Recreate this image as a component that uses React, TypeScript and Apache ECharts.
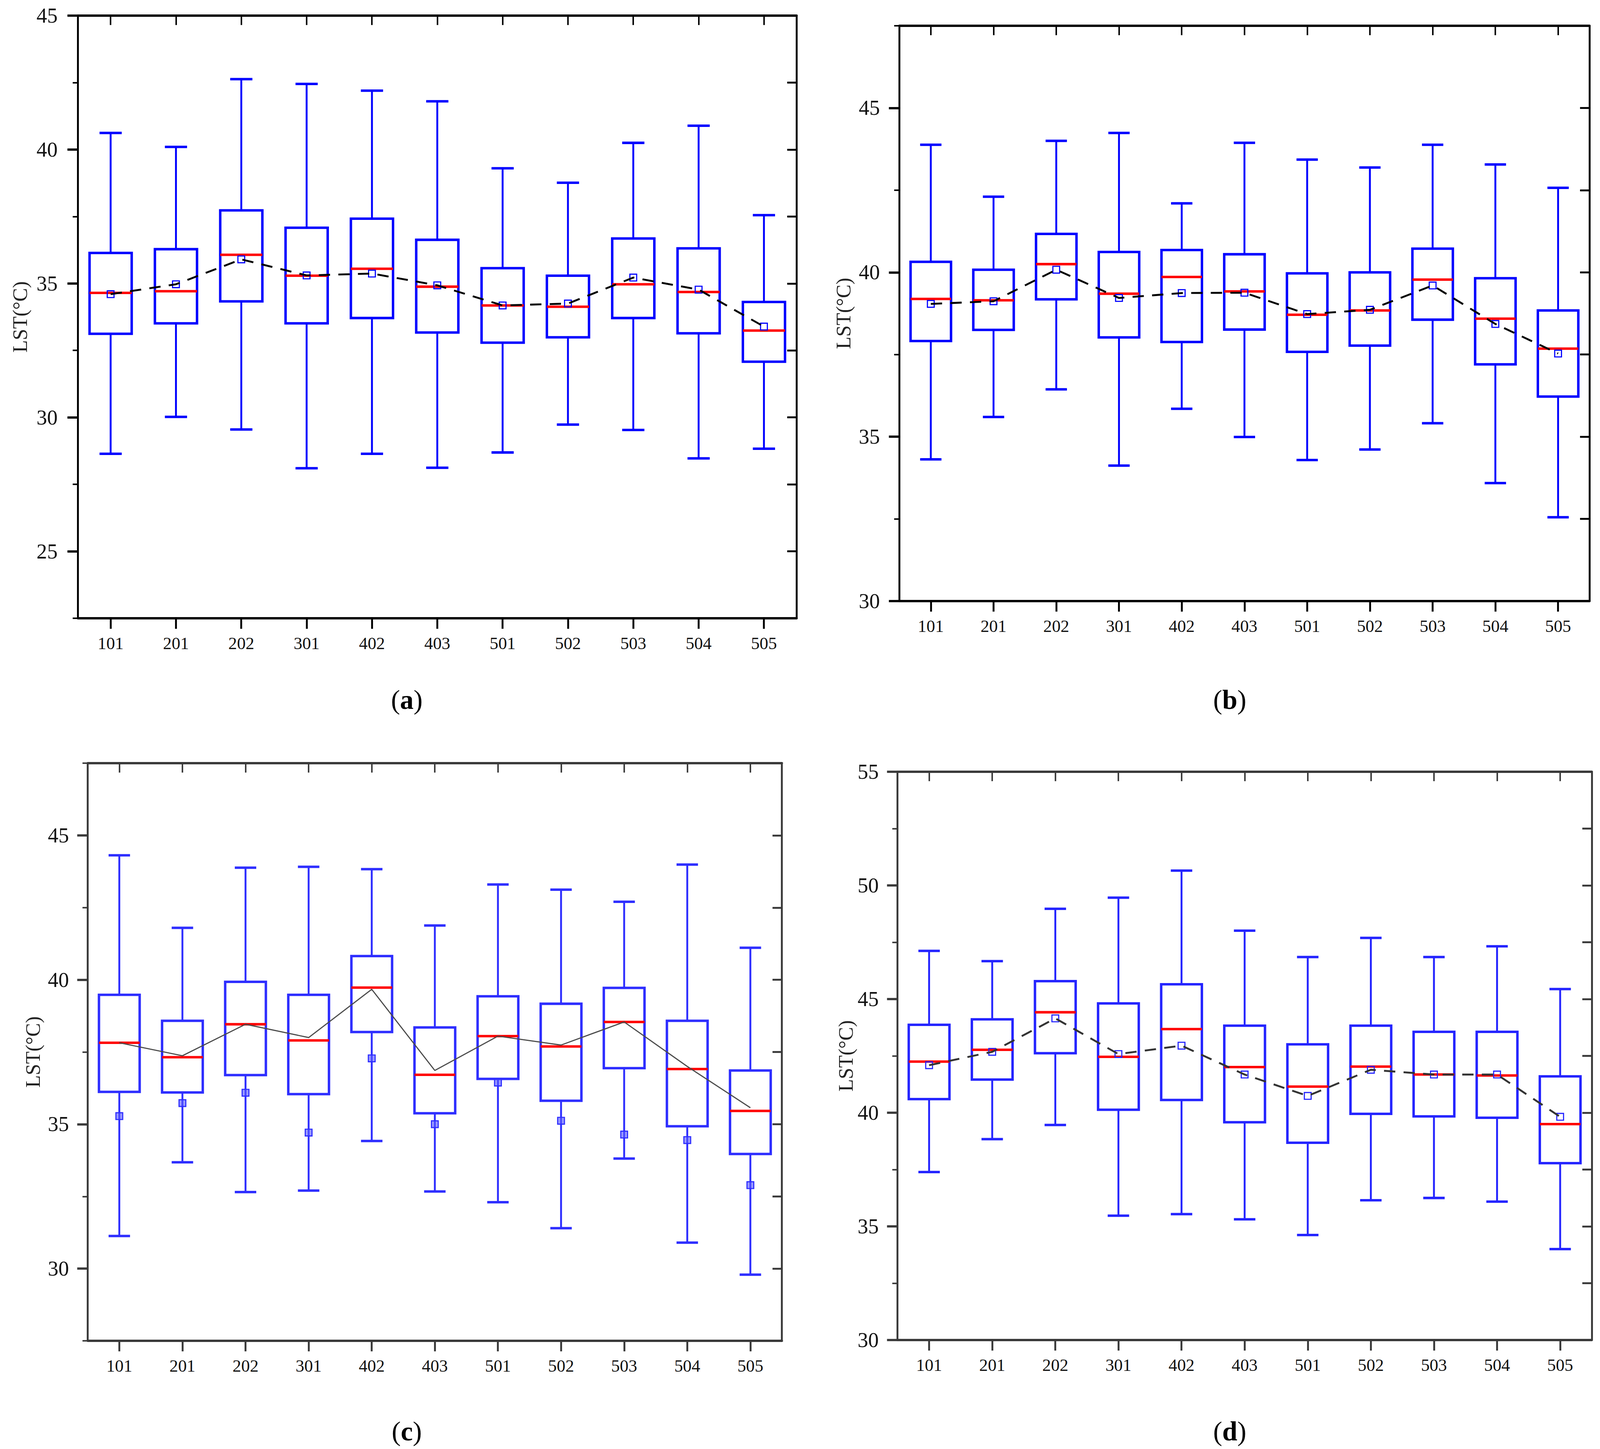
import React, { useEffect, useRef } from "react";
import * as echarts from "echarts";

const categories = ["101", "201", "202", "301", "402", "403", "501", "502", "503", "504", "505"];

// Panel (a)
const aLow = [28.64, 30.02, 29.55, 28.1, 28.64, 28.12, 28.69, 29.73, 29.53, 28.47, 28.83];
const aQ1 = [33.12, 33.51, 34.33, 33.51, 33.71, 33.17, 32.79, 32.99, 33.71, 33.14, 32.08];
const aMed = [34.65, 34.71, 36.07, 35.29, 35.55, 34.88, 34.18, 34.13, 34.97, 34.68, 33.24];
const aQ3 = [36.14, 36.28, 37.73, 37.08, 37.42, 36.63, 35.57, 35.29, 36.68, 36.31, 34.31];
const aHigh = [40.62, 40.1, 42.63, 42.45, 42.2, 41.8, 39.3, 38.76, 40.25, 40.89, 37.55];
const aMean = [34.6, 34.97, 35.9, 35.3, 35.37, 34.93, 34.18, 34.25, 35.22, 34.77, 33.39];

// Panel (b)
const bLow = [34.31, 35.6, 36.44, 34.12, 35.85, 34.99, 34.29, 34.61, 35.41, 33.59, 32.55];
const bQ1 = [37.91, 38.25, 39.18, 38.02, 37.88, 38.26, 37.58, 37.77, 38.56, 37.2, 36.22];
const bMed = [39.19, 39.15, 40.25, 39.35, 39.86, 39.42, 38.71, 38.84, 39.78, 38.59, 37.68];
const bQ3 = [40.32, 40.08, 41.17, 40.62, 40.68, 40.55, 39.97, 40.0, 40.72, 39.82, 38.84];
const bHigh = [43.88, 42.3, 44.0, 44.24, 42.1, 43.94, 43.43, 43.19, 43.88, 43.28, 42.57];
const bMean = [39.04, 39.12, 40.08, 39.22, 39.37, 39.38, 38.73, 38.86, 39.6, 38.43, 37.53];

// Panel (c)
const cLow = [31.13, 33.68, 32.65, 32.7, 34.42, 32.67, 32.3, 31.4, 33.81, 30.9, 29.79];
const cQ1 = [36.12, 36.1, 36.7, 36.04, 38.19, 35.38, 36.57, 35.81, 36.94, 34.93, 33.97];
const cMed = [37.82, 37.32, 38.46, 37.9, 39.73, 36.71, 38.05, 37.69, 38.54, 36.91, 35.46];
const cQ3 = [39.48, 38.58, 39.93, 39.48, 40.82, 38.35, 39.43, 39.17, 39.72, 38.58, 36.86];
const cHigh = [44.31, 41.8, 43.88, 43.91, 43.83, 41.88, 43.3, 43.12, 42.7, 43.99, 41.11];
const cMean = [35.28, 35.73, 36.09, 34.71, 37.28, 35.0, 36.44, 35.12, 34.64, 34.45, 32.89];
const cTrend = [37.82, 37.37, 38.46, 38.0, 39.67, 36.86, 38.05, 37.74, 38.54, 37.0, 35.57];

// Panel (d)
const dLow = [37.39, 38.84, 39.46, 35.47, 35.54, 35.31, 34.62, 36.15, 36.25, 36.09, 34.0];
const dQ1 = [40.6, 41.46, 42.62, 40.13, 40.56, 39.58, 38.68, 39.95, 39.84, 39.78, 37.78];
const dMed = [42.25, 42.77, 44.42, 42.46, 43.68, 42.01, 41.15, 42.03, 41.68, 41.64, 39.5];
const dQ3 = [43.87, 44.11, 45.79, 44.81, 45.65, 43.83, 43.01, 43.83, 43.56, 43.56, 41.6];
const dHigh = [47.12, 46.67, 48.97, 49.46, 50.65, 48.01, 46.85, 47.69, 46.85, 47.32, 45.44];
const dMean = [42.09, 42.68, 44.15, 42.58, 42.95, 41.68, 40.74, 41.89, 41.68, 41.68, 39.82];

const yMajorA = [25, 30, 35, 40, 45];
const yMajorB = [30, 35, 40, 45];
const yMajorC = [30, 35, 40, 45];
const yMajorD = [30, 35, 40, 45, 50, 55];

const FONT = "'Liberation Serif', 'Times New Roman', serif";
const REF_W = 4248;
const REF_H = 3710;

type Panel = {
  letter: string;
  grid: { left: number; top: number; width: number; height: number };
  min: number;
  max: number;
  majors: number[];
  low: number[];
  q1: number[];
  med: number[];
  q3: number[];
  high: number[];
  mean: number[];
  line: number[];
  lineColor: string;
  lineWidth: number;
  dashed: boolean;
  blue: string;
  meanFill: string;
  frame: string;
  labelMargin: number;
  nameGap: number;
  caption: [number, number];
};

const panels: Panel[] = [
  {
    letter: "a",
    grid: { left: 207, top: 40, width: 1908, height: 1543 },
    min: 22.5, max: 45, majors: yMajorA,
    low: aLow, q1: aQ1, med: aMed, q3: aQ3, high: aHigh, mean: aMean, line: aMean,
    lineColor: "#000", lineWidth: 5, dashed: true,
    blue: "#0000ff", meanFill: "rgba(0,0,0,0)", frame: "#000",
    labelMargin: 54, nameGap: 127, caption: [1080, 1791],
  },
  {
    letter: "b",
    grid: { left: 2388, top: 66, width: 1832, height: 1473 },
    min: 30, max: 47.5, majors: yMajorB,
    low: bLow, q1: bQ1, med: bMed, q3: bQ3, high: bHigh, mean: bMean, line: bMean,
    lineColor: "#000", lineWidth: 5, dashed: true,
    blue: "#0000ff", meanFill: "rgba(0,0,0,0)", frame: "#000",
    labelMargin: 52, nameGap: 121, caption: [3265, 1791],
  },
  {
    letter: "c",
    grid: { left: 233, top: 1954, width: 1843, height: 1479 },
    min: 27.5, max: 47.5, majors: yMajorC,
    low: cLow, q1: cQ1, med: cMed, q3: cQ3, high: cHigh, mean: cMean, line: cTrend,
    lineColor: "#4a4a4a", lineWidth: 3, dashed: false,
    blue: "#2e2eff", meanFill: "rgba(90,90,255,0.6)", frame: "#3a3a3a",
    labelMargin: 50, nameGap: 118, caption: [1080, 3664],
  },
  {
    letter: "d",
    grid: { left: 2383, top: 1976, width: 1843, height: 1455 },
    min: 30, max: 55, majors: yMajorD,
    low: dLow, q1: dQ1, med: dMed, q3: dQ3, high: dHigh, mean: dMean, line: dMean,
    lineColor: "#333", lineWidth: 5, dashed: true,
    blue: "#2424ff", meanFill: "rgba(0,0,0,0)", frame: "#3a3a3a",
    labelMargin: 50, nameGap: 105, caption: [3265, 3664],
  },
];

function buildOption(kx: number, ky: number) {
  const k = Math.min(kx, ky);
  const grid: any[] = [];
  const xAxis: any[] = [];
  const yAxis: any[] = [];
  const series: any[] = [];
  const graphic: any[] = [];

  panels.forEach((p, gi) => {
    grid.push({
      left: p.grid.left * kx,
      top: p.grid.top * ky,
      width: p.grid.width * kx,
      height: p.grid.height * ky,
      containLabel: false,
      outerBoundsMode: "none",
    });
    const lineStyle = { color: p.frame, width: 6 * k };
    xAxis.push({
      gridIndex: gi, type: "category", data: categories, position: "bottom",
      axisLine: { show: true, lineStyle },
      axisTick: { show: true, inside: false, length: 28 * k, alignWithLabel: true, lineStyle: { color: p.frame, width: 5 * k } },
      axisLabel: { show: true, fontSize: 46 * k, fontFamily: FONT, color: "#111", margin: 44 * k },
      splitLine: { show: false },
    });
    xAxis.push({
      gridIndex: gi, type: "category", data: categories, position: "top",
      axisLine: { show: true, lineStyle },
      axisTick: { show: true, inside: true, length: 25 * k, alignWithLabel: true, lineStyle: { color: p.frame, width: 4 * k } },
      axisLabel: { show: false },
      splitLine: { show: false },
    });
    yAxis.push({
      gridIndex: gi, type: "value", min: p.min, max: p.max, interval: 2.5, position: "left",
      axisLine: { show: true, lineStyle: { color: p.frame, width: 5 * k } },
      axisTick: { show: true, inside: false, length: 14 * k, lineStyle: { color: p.frame, width: 4 * k } },
      axisLabel: { show: false },
      splitLine: { show: false },
    });
    yAxis.push({
      gridIndex: gi, type: "value", min: p.min, max: p.max, interval: 2.5, position: "left",
      axisLine: { show: false },
      axisTick: { show: true, inside: false, length: 28 * k, customValues: p.majors, lineStyle: { color: p.frame, width: 6 * k } },
      axisLabel: { show: true, customValues: p.majors, fontSize: 56 * k, fontFamily: FONT, color: "#111", margin: p.labelMargin * k },
      splitLine: { show: false },
      name: "LST(°C)", nameLocation: "middle", nameGap: p.nameGap * k,
      nameTextStyle: { fontSize: 54 * k, fontFamily: FONT, color: "#222" },
    });
    yAxis.push({
      gridIndex: gi, type: "value", min: p.min, max: p.max, interval: 2.5, position: "right",
      axisLine: { show: true, lineStyle: { color: p.frame, width: 5 * k } },
      axisTick: { show: true, inside: true, length: 25 * k, lineStyle: { color: p.frame, width: 5 * k } },
      axisLabel: { show: false },
      splitLine: { show: false },
    });

    const data = categories.map((c, i) => [i, p.low[i], p.q1[i], p.med[i], p.q3[i], p.high[i], p.mean[i]]);
    series.push({
      type: "custom",
      name: "box-" + p.letter,
      xAxisIndex: gi * 2,
      yAxisIndex: gi * 3 + 1,
      data,
      encode: { x: 0, y: [1, 2, 3, 4, 5, 6] },
      clip: false,
      z: 2,
      renderItem: (params: any, api: any) => {
        const idx = api.value(0);
        const bw = api.size([1, 0])[0];
        const x = api.coord([idx, p.min])[0];
        const yLow = api.coord([idx, api.value(1)])[1];
        const yQ1 = api.coord([idx, api.value(2)])[1];
        const yMed = api.coord([idx, api.value(3)])[1];
        const yQ3 = api.coord([idx, api.value(4)])[1];
        const yHigh = api.coord([idx, api.value(5)])[1];
        const yMean = api.coord([idx, api.value(6)])[1];
        const half = (bw * 0.645) / 2;
        const cap = bw * 0.17;
        const ms = 9 * k;
        const wStyle = { stroke: p.blue, lineWidth: 5 * k, fill: null };
        const cStyle = { stroke: p.blue, lineWidth: 6.5 * k, fill: null };
        return {
          type: "group",
          children: [
            { type: "line", shape: { x1: x, y1: yHigh, x2: x, y2: yQ3 }, style: wStyle },
            { type: "line", shape: { x1: x, y1: yQ1, x2: x, y2: yLow }, style: wStyle },
            { type: "line", shape: { x1: x - cap, y1: yHigh, x2: x + cap, y2: yHigh }, style: cStyle },
            { type: "line", shape: { x1: x - cap, y1: yLow, x2: x + cap, y2: yLow }, style: cStyle },
            {
              type: "rect",
              shape: { x: x - half, y: yQ3, width: half * 2, height: yQ1 - yQ3 },
              style: { stroke: p.blue, lineWidth: 6.5 * k, fill: "rgba(0,0,0,0)" },
            },
            {
              type: "line",
              shape: { x1: x - half, y1: yMed, x2: x + half, y2: yMed },
              style: { stroke: "#ff0000", lineWidth: 6.5 * k },
            },
            {
              type: "rect",
              shape: { x: x - ms, y: yMean - ms, width: ms * 2, height: ms * 2 },
              style: { stroke: p.blue, lineWidth: 3 * k, fill: p.meanFill },
            },
          ],
        };
      },
    });
    series.push({
      type: "line",
      name: "mean-" + p.letter,
      xAxisIndex: gi * 2,
      yAxisIndex: gi * 3 + 1,
      data: p.line,
      symbol: "none",
      z: 3,
      lineStyle: {
        color: p.lineColor,
        width: p.lineWidth * k,
        type: p.dashed ? [30 * k, 22 * k] : "solid",
      },
    });

    graphic.push({
      type: "text",
      x: p.caption[0] * kx,
      y: p.caption[1] * ky,
      style: {
        text: "{n|(}{b|" + p.letter + "}{n|)}",
        align: "center",
        verticalAlign: "middle",
        rich: {
          n: { fontSize: 72 * k, fontFamily: FONT, color: "#000" },
          b: { fontSize: 72 * k, fontFamily: FONT, fontWeight: "bold", color: "#000" },
        },
      },
    });
  });

  return {
    animation: false,
    backgroundColor: "#ffffff",
    grid,
    xAxis,
    yAxis,
    series,
    graphic,
  };
}

export default function App() {
  const ref = useRef<HTMLDivElement>(null);
  useEffect(() => {
    if (!ref.current) return;
    document.body.style.margin = "0";
    document.body.style.overflow = "hidden";
    const el = ref.current;
    const w = el.clientWidth || REF_W;
    const h = el.clientHeight || REF_H;
    const chart = echarts.init(el, null, { renderer: "svg", width: w, height: h });
    chart.setOption(buildOption(w / REF_W, h / REF_H) as any);
    return () => chart.dispose();
  }, []);
  return (
    <div
      ref={ref}
      style={{ position: "fixed", left: 0, top: 0, width: "100vw", height: "100vh", background: "#fff" }}
    />
  );
}
